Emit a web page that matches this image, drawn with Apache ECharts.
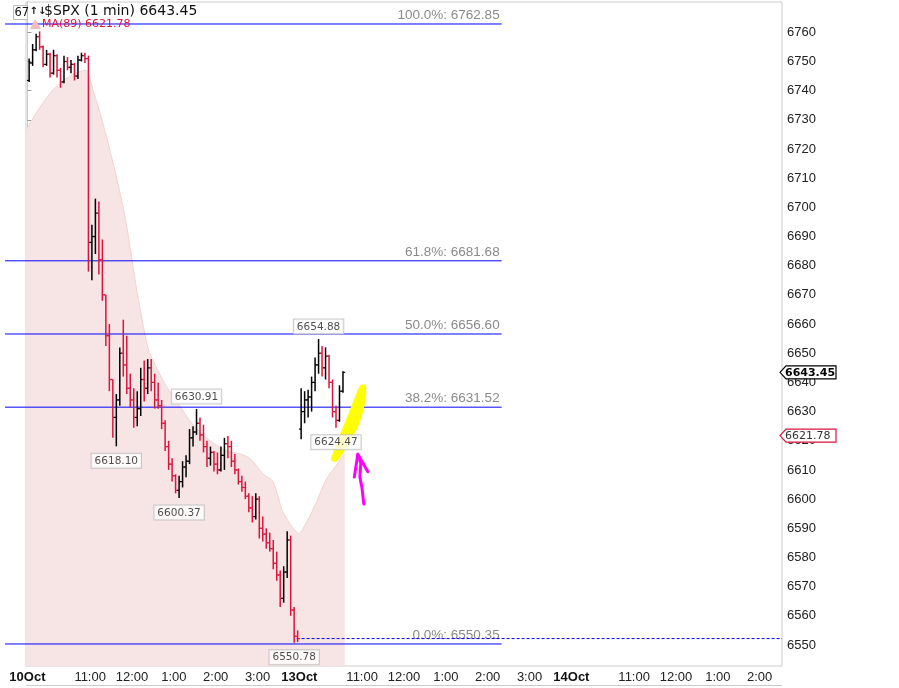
<!DOCTYPE html>
<html>
<head>
<meta charset="utf-8">
<script src="https://cdn.jsdelivr.net/npm/echarts@6/dist/echarts.min.js"></script>
<style>
html,body{margin:0;padding:0;background:#ffffff;}
#c{width:899px;height:688px;}
</style>
</head>
<body>
<div id="c"></div>
<script>
// ---------------- DATA ----------------
const symbolName = '$SPX (1 min)';
const lastPrice = 6643.45;
const maLabel = 'MA(89)';
const maLast = 6621.78;
const sessionMinutes = 390;   // 9:30 - 16:00
const barMinutes = 5;

// 10 Oct session (5-minute OHLC)
const d1Open  = [6743.5,6749.5,6754,6758.5,6755,6749,6752.5,6746,6752,6747,6743,6750,6748,6749,6745,6750.5,6752,6751,6688,6690,6698,6682,6670,6656,6641,6628,6634,6650,6646,6638,6634,6628,6631,6641,6638,6645,6640,6634,6632,6626,6618,6612,6608,6603,6606,6611,6613,6621,6623,6626,6622,6618,6614,6616,6612,6610,6615,6619,6618,6613,6610,6606,6604,6601,6597,6594,6600,6590,6588,6585,6583,6578,6574,6566,6575,6586,6562,6553];
const d1High  = [6751,6756,6759.5,6760.3,6755.5,6754,6753,6754,6752.5,6747.8,6752,6751.5,6750.5,6749.5,6752,6753,6753,6752,6694,6703,6702,6689,6670,6660,6641,6636,6652,6661.5,6656,6643,6638,6637,6645,6647.5,6648,6648,6643,6640,6634,6627,6620,6614,6608.5,6608,6613,6615,6624,6625,6630.91,6628,6625.5,6620,6618,6616.5,6616,6618,6621,6621.6,6620,6615.5,6610.5,6608,6606,6602,6601,6602,6601,6594,6590,6588.5,6586,6582,6575.5,6577,6589,6587.5,6563,6555];
const d1Low   = [6743,6748.5,6753.5,6754,6748,6748.5,6744.5,6745.5,6744.5,6741,6742.5,6747,6746,6743.5,6744,6750,6749.5,6678,6675,6684,6677,6668,6652.5,6637,6621,6618.1,6632,6642,6636,6631.5,6624.5,6625,6628.5,6633.5,6636,6637,6631,6631,6624,6616.5,6610,6606,6602,6600.37,6604,6607.5,6612,6618,6622,6620,6616,6611,6611.5,6609.5,6608.5,6609.5,6610,6614,6611,6608.5,6605,6602.5,6600,6595.5,6592,6593,6586.5,6585.5,6583,6582,6576,6572,6563,6564.5,6573,6560,6550.78,6551];
const d1Close = [6749.5,6754,6758.5,6755,6749,6752.5,6746,6752,6747,6743,6750,6748,6749,6745,6750.5,6752,6751,6688,6690,6698,6682,6670,6656,6641,6628,6634,6650,6646,6638,6634,6628,6631,6641,6638,6645,6640,6634,6632,6626,6618,6612,6608,6603,6606,6611,6613,6621,6623,6626,6622,6618,6614,6616,6612,6610,6615,6619,6618,6613,6610,6606,6604,6601,6597,6594,6600,6590,6588,6585,6583,6578,6574,6566,6575,6586,6562,6553,6552.2];

// 13 Oct session (first hour)
const d2Open  = [6624,6630,6634,6635,6640,6646,6650,6645,6649,6640,6630,6627,6637];
const d2High  = [6638,6637,6637.5,6642,6648.5,6654.88,6652.5,6652,6649.5,6641,6632,6639,6643.8];
const d2Low   = [6620.5,6626,6628,6630,6637,6643,6642,6641,6638,6628,6624.47,6626.5,6636.5];
const d2Close = [6630,6634,6635,6640,6646,6650,6645,6649,6640,6630,6627,6637,6643.45];

// MA(89) envelope (minute index since 10 Oct open, value)
const maMinutes = [-2,0,18,36.5,56.6,68,84,95,107,125.4,141,157,173,186,200,214,233,257,286,305,319,338,352,366,381,389,401,415,427,441,455];
const maValues  = [6726.8,6727.4,6734.3,6740.2,6744.3,6746,6747,6739.5,6729.9,6712.7,6695.5,6671.4,6651.8,6644.6,6638.4,6633.6,6626.8,6620.9,6616.5,6615.5,6614,6608.6,6606.1,6595.8,6590,6588.2,6592.4,6599.3,6606.1,6611,6615.5];

// Fibonacci retracement levels
const fibLabels = ['100.0%','61.8%','50.0%','38.2%','0.0%'];
const fibValues = [6762.85,6681.68,6656.60,6631.52,6550.35];
const fibStartMinute = -32, fibEndMinute = 680;
const priorClose = 6552.2;      // dotted level
const priorCloseStart = 386;

// swing labels
const highLabelMinutes = [242.5, 417.5];
const highLabelValues  = [6630.91, 6654.88];
const lowLabelMinutes  = [127.5, 217.5, 382.5, 442.5];
const lowLabelValues   = [6618.10, 6600.37, 6550.78, 6624.47];

// x axis ticks (minute index) and labels
const xTickValues = [0,90,150,210,270,330,390,480,540,600,660,720,780,870,930,990,1050];
const xTickLabels = ['10Oct','11:00','12:00','1:00','2:00','3:00','13Oct','11:00','12:00','1:00','2:00','3:00','14Oct','11:00','12:00','1:00','2:00'];
const yTickValues = [6550,6560,6570,6580,6590,6600,6610,6620,6630,6640,6650,6660,6670,6680,6690,6700,6710,6720,6730,6740,6750,6760];

// hand-drawn annotations (minute, price)
const yellowMarkM = [435.1,440.9,448.0,456.6,465.2,473.8,478.1,485.3,485.3,481.0,473.8,462.4,450.9,442.3];
const yellowMarkP = [6613.4,6617.5,6622.0,6627.1,6632.2,6637.4,6639.1,6639.1,6634.6,6629.8,6624.7,6619.6,6615.1,6612.7];
const arrowShaftM = [482.4,479.6,476.7,478.1,473.8];
const arrowShaftP = [6598.3,6604.1,6607.6,6612.3,6615.4];
const arrowBarbM = [468.8,473.8,488.2];
const arrowBarbP = [6607.6,6615.4,6609.4];

// ---------------- BUILD ----------------
const UP = '#000000', DOWN = '#dc143c', BLUE = '#0000ff';
const ohlc = [];
function addDay(day, o, h, l, c) {
  for (let k = 0; k < o.length; k++) {
    ohlc.push([day * sessionMinutes + k * barMinutes + barMinutes / 2, o[k], h[k], l[k], c[k]]);
  }
}
addDay(0, d1Open, d1High, d1Low, d1Close);
addDay(1, d2Open, d2High, d2Low, d2Close);
const maData = maMinutes.map((m, i) => [m, maValues[i]]);

const chart = echarts.init(document.getElementById('c'));
const labelBox = {
  show: true, color: '#222', fontSize: 10.5, fontFamily: 'DejaVu Sans',
  backgroundColor: '#ffffff', borderColor: '#bdbdbd', borderWidth: 1, padding: [2, 3, 1, 3],
  formatter: p => p.value[1].toFixed(2)
};

chart.setOption({
  animation: false,
  grid: { left: 26, right: 117, top: 2, bottom: 22, show: true, borderColor: '#cccccc', borderWidth: 1, backgroundColor: 'transparent' },
  xAxis: {
    type: 'value', min: -2, max: 1082,
    axisLine: { show: false }, axisTick: { show: false }, splitLine: { show: false },
    axisLabel: {
      customValues: xTickValues, margin: 5, color: '#222', fontSize: 13, fontFamily: 'Liberation Sans',
      formatter: v => {
        const t = xTickLabels[xTickValues.indexOf(v)] || '';
        return t.indexOf('Oct') >= 0 ? '{b|' + t + '}' : t;
      },
      rich: { b: { fontWeight: 'bold', fontSize: 13, fontFamily: 'Liberation Sans', color: '#111' } }
    }
  },
  yAxis: {
    type: 'value', position: 'right', min: 6542.8, max: 6770.39, scale: true,
    axisLine: { show: true, lineStyle: { color: '#cccccc' } },
    axisTick: { show: true, customValues: yTickValues, length: 4, lineStyle: { color: '#999' } },
    splitLine: { show: false },
    axisLabel: { customValues: yTickValues, margin: 5, color: '#222', fontSize: 13, fontFamily: 'Liberation Sans', formatter: v => String(v) }
  },
  series: [
    {
      type: 'line', name: 'MA', data: maData, smooth: 0.25, showSymbol: false, z: 1,
      lineStyle: { color: '#f2d2d2', width: 1 },
      areaStyle: { color: '#f7e4e4', opacity: 1, origin: 'start' }
    },
    {
      type: 'custom', name: 'SPX', data: ohlc, z: 4,
      encode: { x: 0, y: [1, 2, 3, 4] },
      renderItem: (params, api) => {
        const m = api.value(0), o = api.value(1), h = api.value(2), l = api.value(3), c = api.value(4);
        const ph = api.coord([m, h]), pl = api.coord([m, l]), po = api.coord([m, o]), pc = api.coord([m, c]);
        const col = c >= o ? UP : DOWN;
        const x = ph[0];
        return { type: 'group', children: [
          { type: 'line', shape: { x1: x, y1: ph[1], x2: x, y2: pl[1] }, style: { stroke: col, lineWidth: 1.5 } },
          { type: 'line', shape: { x1: x - 2.2, y1: po[1], x2: x, y2: po[1] }, style: { stroke: col, lineWidth: 1.2 } },
          { type: 'line', shape: { x1: x, y1: pc[1], x2: x + 2.2, y2: pc[1] }, style: { stroke: col, lineWidth: 1.2 } }
        ] };
      }
    },
    {
      type: 'scatter', name: 'highs', z: 6, symbolSize: 1, itemStyle: { color: 'rgba(0,0,0,0)' },
      data: highLabelMinutes.map((m, i) => [m, highLabelValues[i]]),
      label: Object.assign({}, labelBox, { position: 'top', distance: 5 })
    },
    {
      type: 'scatter', name: 'lows', z: 6, symbolSize: 1, itemStyle: { color: 'rgba(0,0,0,0)' },
      data: lowLabelMinutes.map((m, i) => [m, lowLabelValues[i]]),
      label: Object.assign({}, labelBox, { position: 'bottom', distance: 7 })
    }
  ]
});

// ---------------- OVERLAYS ----------------
const px = (m, p) => chart.convertToPixel({ gridIndex: 0 }, [m, p]);
const g = [];
// fib lines
fibValues.forEach((v, i) => {
  const a = px(fibStartMinute, v), b = px(fibEndMinute, v);
  g.push({ type: 'line', z: 3, shape: { x1: a[0], y1: a[1], x2: b[0], y2: b[1] }, style: { stroke: BLUE, lineWidth: 1 } });
  g.push({ type: 'text', z: 3, style: { x: b[0] - 2, y: b[1] - 2, text: fibLabels[i] + ': ' + v.toFixed(2), fill: '#8a8a8a', font: '13.5px "Liberation Sans"', textAlign: 'right', textVerticalAlign: 'bottom' } });
});
// dotted prior-close line
{
  const a = px(priorCloseStart, priorClose), b = px(1082, priorClose);
  g.push({ type: 'line', z: 3, shape: { x1: a[0], y1: a[1], x2: b[0], y2: b[1] }, style: { stroke: BLUE, lineWidth: 1, lineDash: [3, 2] } });
}
// yellow highlight
g.push({ type: 'polygon', z: 5, shape: { points: yellowMarkM.map((m, i) => px(m, yellowMarkP[i])), smooth: 0.2 }, style: { fill: '#ffff00' } });
// magenta arrow
g.push({ type: 'polyline', z: 7, shape: { points: arrowShaftM.map((m, i) => px(m, arrowShaftP[i])) }, style: { stroke: '#ff00ff', lineWidth: 3, lineJoin: 'round', lineCap: 'round', fill: null } });
g.push({ type: 'polyline', z: 7, shape: { points: arrowBarbM.map((m, i) => px(m, arrowBarbP[i])) }, style: { stroke: '#ff00ff', lineWidth: 3, lineJoin: 'round', lineCap: 'round', fill: null } });

// right-axis price markers
function marker(value, text, border, bold, color) {
  const y = px(0, value)[1];
  const x0 = px(1082, value)[0] - 2;
  g.push({ type: 'polygon', z: 8, shape: { points: [[x0, y], [x0 + 6, y - 6.5], [x0 + 56, y - 6.5], [x0 + 56, y + 6.5], [x0 + 6, y + 6.5]] }, style: { fill: '#ffffff', stroke: border, lineWidth: 1.2 } });
  g.push({ type: 'text', z: 9, style: { x: x0 + 5, y: y + 0.5, text: text, fill: color, font: (bold ? 'bold ' : '') + '11px "DejaVu Sans"', textVerticalAlign: 'middle' } });
}
marker(lastPrice, lastPrice.toFixed(2), '#000000', true, '#000');
marker(maLast, maLast.toFixed(2), DOWN, false, '#333');

// title / legend
g.push({ type: 'rect', z: 9, shape: { x: 13.5, y: 5.5, width: 14, height: 14 }, style: { fill: '#fff', stroke: '#bbbbbb', lineWidth: 1 } });
g.push({ type: 'text', z: 10, style: { x: 14.5, y: 13, text: '67', fill: '#111', font: '11.5px "DejaVu Sans"', textVerticalAlign: 'middle' } });
g.push({ type: 'text', z: 10, style: { x: 29.5, y: 11.5, text: '↑↓', fill: '#111', font: 'bold 10px "DejaVu Sans"', textVerticalAlign: 'middle' } });
g.push({ type: 'text', z: 10, style: { x: 44, y: 11.5, text: symbolName + ' ' + lastPrice.toFixed(2), fill: '#111', font: '14px "DejaVu Sans"', textVerticalAlign: 'middle' } });
g.push({ type: 'polygon', z: 10, shape: { points: [[30, 29], [35, 19], [41, 29]] }, style: { fill: '#f0bcbc' } });
g.push({ type: 'text', z: 10, style: { x: 42, y: 24.5, text: maLabel + ' ' + maLast.toFixed(2), fill: DOWN, font: '11px "DejaVu Sans"', textVerticalAlign: 'middle' } });
// lower panel edge
g.push({ type: 'line', z: 3, shape: { x1: 26, y1: 685.5, x2: 782, y2: 685.5 }, style: { stroke: '#cccccc', lineWidth: 1 } });

chart.setOption({ graphic: g });
</script>
</body>
</html>
